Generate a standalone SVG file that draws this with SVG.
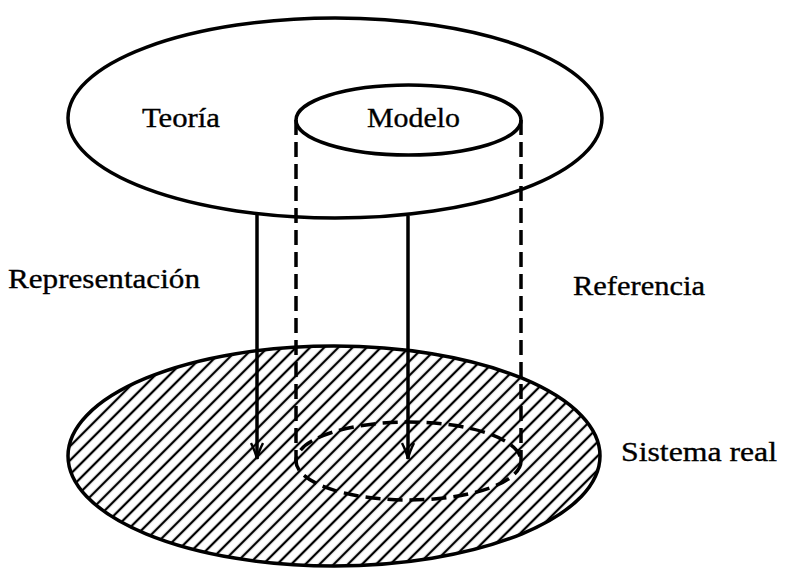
<svg xmlns="http://www.w3.org/2000/svg" width="789" height="572" viewBox="0 0 789 572">
  <style>
    .outline { fill: none; stroke: #000; stroke-width: 3.5; }
    .dashed { fill: none; stroke: #000; stroke-width: 3.5; stroke-dasharray: 15 7; }
    .arrow { fill: none; stroke: #000; stroke-width: 3.5; }
    .label { font-family: "Liberation Serif", "Times New Roman", serif; font-size: 28px; fill: #000; stroke: #000; stroke-width: 0.35; }
  </style>
  <defs>
    <pattern id="hatch" patternUnits="userSpaceOnUse" width="10" height="20" patternTransform="rotate(45)">
      <line x1="5" y1="-2" x2="5" y2="22" stroke="#000" stroke-width="2.3"/>
    </pattern>
    <marker id="head" viewBox="0 0 18 14" refX="17" refY="7" markerWidth="18" markerHeight="14" markerUnits="userSpaceOnUse" orient="auto">
      <path d="M1,1 Q10,5.5 17,7 Q10,8.5 1,13" fill="none" stroke="#000" stroke-width="2.4"/>
    </marker>
  </defs>

  <!-- Real system: hatched base ellipse -->
  <g id="sistema-real">
    <ellipse cx="334" cy="456" rx="266" ry="110" fill="url(#hatch)"/>
    <ellipse class="outline" cx="334" cy="456" rx="266" ry="110"/>
    <text class="label" x="621" y="461" textLength="156" lengthAdjust="spacingAndGlyphs">Sistema real</text>
  </g>

  <!-- Theory ellipse -->
  <g id="teoria">
    <ellipse class="outline" cx="335" cy="118" rx="267" ry="100"/>
    <text class="label" x="142" y="127" textLength="78" lengthAdjust="spacingAndGlyphs">Teoría</text>
  </g>

  <!-- Model ellipse inside the theory -->
  <g id="modelo">
    <ellipse class="outline" cx="408.5" cy="120" rx="112.5" ry="35"/>
    <text class="label" x="367" y="127" textLength="93" lengthAdjust="spacingAndGlyphs">Modelo</text>
  </g>

  <!-- Model projected onto the real system -->
  <g id="modelo-proyeccion">
    <ellipse class="dashed" cx="408.5" cy="461" rx="112.5" ry="39"/>
  </g>

  <g id="connectors">
    <line class="dashed" x1="296" y1="120" x2="296" y2="463"/>
    <line class="dashed" x1="521" y1="120" x2="521" y2="461"/>
    <line class="arrow" x1="257" y1="214" x2="257" y2="459" marker-end="url(#head)"/>
    <line class="arrow" x1="408" y1="216" x2="408" y2="459" marker-end="url(#head)"/>
  </g>

  <g id="labels">
    <text class="label" x="8" y="288" textLength="192" lengthAdjust="spacingAndGlyphs">Representación</text>
    <text class="label" x="573" y="295" textLength="132" lengthAdjust="spacingAndGlyphs">Referencia</text>
  </g>
</svg>
